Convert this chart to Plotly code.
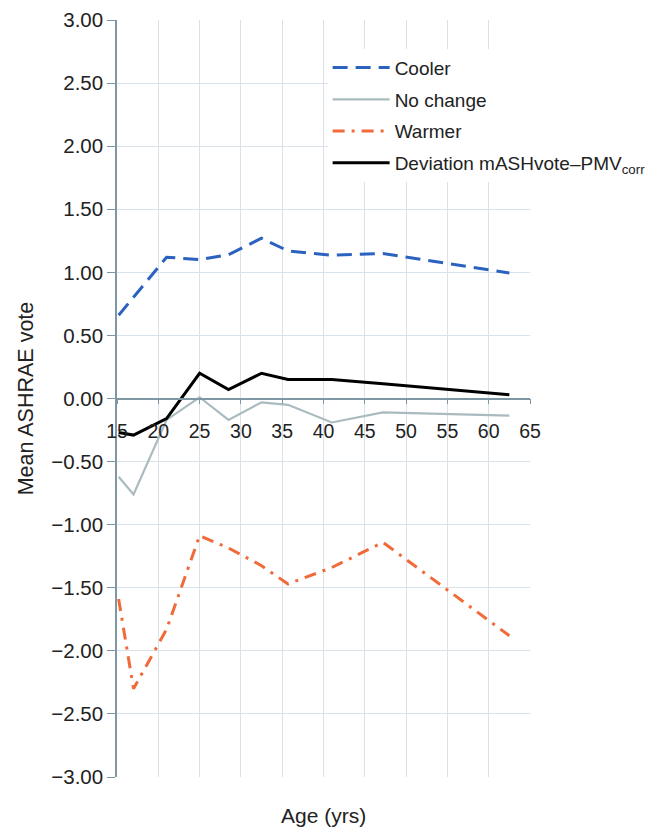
import plotly.graph_objects as go

ages = [15.2, 17, 21, 25, 28.5, 32.5, 35.7, 41, 47.2, 62.5]
cooler = [0.66, 0.80, 1.12, 1.10, 1.14, 1.27, 1.17, 1.135, 1.15, 0.995]
no_change = [-0.62, -0.76, -0.17, 0.01, -0.17, -0.03, -0.05, -0.19, -0.11, -0.135]
warmer = [-1.59, -2.30, -1.83, -1.087, -1.185, -1.325, -1.47, -1.34, -1.14, -1.88]
deviation = [-0.27, -0.29, -0.16, 0.20, 0.07, 0.20, 0.15, 0.15, 0.116, 0.03]

x_ticks = [15, 20, 25, 30, 35, 40, 45, 50, 55, 60, 65]
y_ticks = [3.0, 2.5, 2.0, 1.5, 1.0, 0.5, 0.0, -0.5, -1.0, -1.5, -2.0, -2.5, -3.0]

FONT = "Liberation Sans, Arial, sans-serif"
GRID = "#d8e2e8"
AXIS = "#7f97a5"

fig = go.Figure()
fig.add_trace(go.Scatter(x=ages, y=cooler, mode="lines", name="Cooler", legendgroup="a",
                         line=dict(color="#2b62c0", width=3, dash="15px,8px")))
fig.add_trace(go.Scatter(x=ages, y=no_change, mode="lines", name="No change", legendgroup="b",
                         line=dict(color="#aabbc0", width=2.2)))
fig.add_trace(go.Scatter(x=ages, y=warmer, mode="lines", name="Warmer", legendgroup="c",
                         line=dict(color="#f06a3a", width=3, dash="12px,7px,3px,7px")))
fig.add_trace(go.Scatter(x=ages, y=deviation, mode="lines",
                         name="Deviation mASHvote\u2013PMV<sub>corr</sub>", legendgroup="d",
                         line=dict(color="#000000", width=3)))

fig.update_layout(
    width=647, height=819,
    margin=dict(l=109, r=125, t=12, b=50, autoexpand=False),
    paper_bgcolor="white", plot_bgcolor="white",
    font=dict(family=FONT, size=19, color="#222222"),
    showlegend=True,
    legend=dict(x=0.51, y=0.962, xanchor="left", yanchor="top",
                bgcolor="white", borderwidth=0, font=dict(size=19, color="#222222"),
                itemwidth=57, tracegroupgap=4, traceorder="grouped"),
    xaxis=dict(range=[15, 65], tickvals=x_ticks, ticktext=[str(v) for v in x_ticks],
               anchor="free", position=0.5, showline=True, linecolor=AXIS, linewidth=1.5,
               ticks="outside", ticklen=5, tickcolor=AXIS, ticklabelstandoff=10,
               showgrid=True, gridcolor=GRID, gridwidth=1, zeroline=False,
               tickfont=dict(size=19.5, color="#222222")),
    yaxis=dict(range=[-3, 3], tickvals=y_ticks, tickformat=".2f",
               showline=True, linecolor=AXIS, linewidth=1.5,
               ticks="outside", ticklen=8, tickcolor=AXIS,
               showgrid=True, gridcolor=GRID, gridwidth=1, zeroline=False,
               tickfont=dict(size=20.5, color="#222222"),
               title=dict(text="Mean ASHRAE vote", font=dict(size=21.5, color="#222222"), standoff=12)),
    annotations=[dict(text="Age (yrs)", x=0.5, y=0, xref="paper", yref="paper",
                      xanchor="center", yanchor="top", yshift=-25, showarrow=False,
                      font=dict(size=21, color="#222222"))],
)

fig.write_html("out.html")
